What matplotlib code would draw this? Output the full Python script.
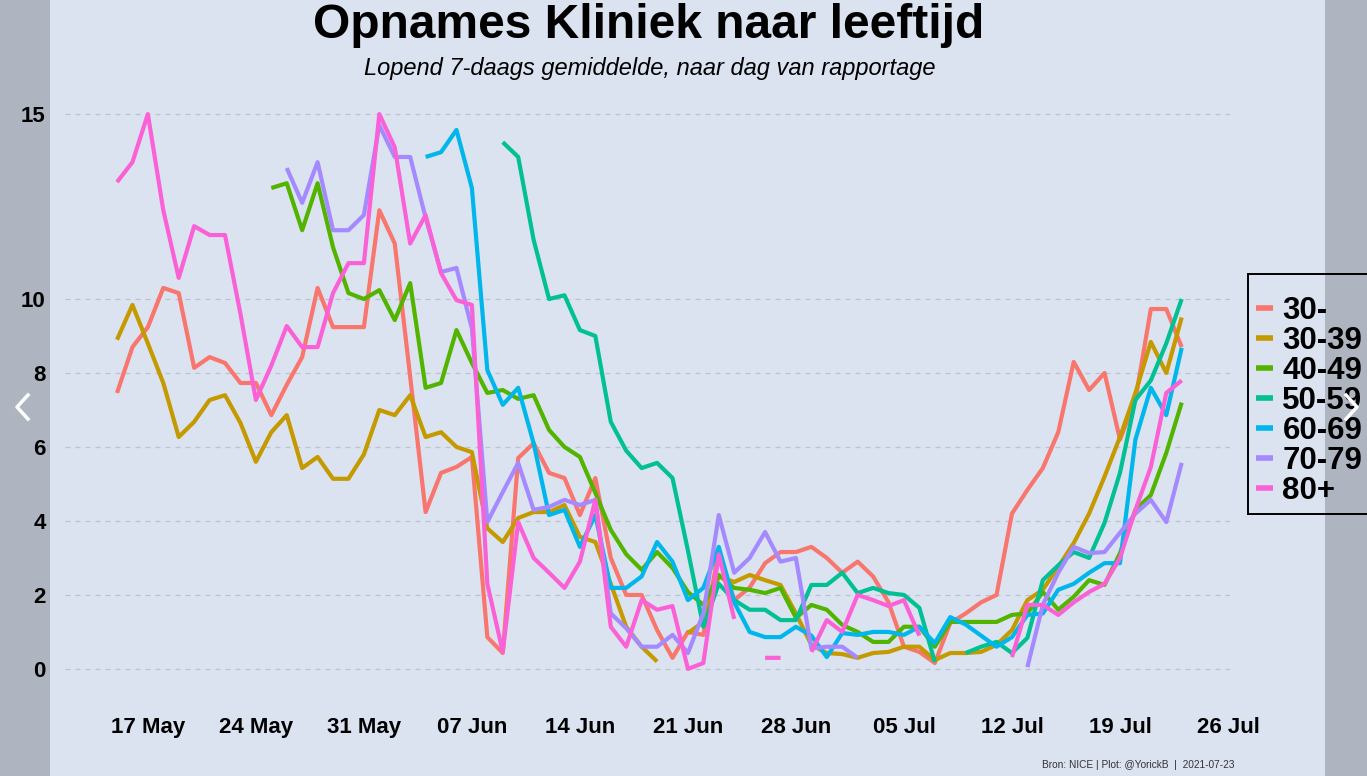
import numpy as np
import pandas as pd
import matplotlib
matplotlib.use('Agg')
import matplotlib.pyplot as plt
import matplotlib.dates as mdates
from matplotlib.lines import Line2D
from matplotlib.patches import Rectangle

nan = np.nan

# daily values, 15 May 2021 .. 23 Jul 2021 (7-day rolling mean)
dates = pd.date_range('2021-05-15', '2021-07-23', freq='D')

age_groups = ['30-', '30-39', '40-49', '50-59', '60-69', '70-79', '80+']
colors = ['#F8766D', '#C49A00', '#53B400', '#00C094', '#00B6EB', '#A58AFF', '#FB61D7']

y_u30 = [7.46, 8.7, 9.24, 10.3, 10.16, 8.14, 8.43, 8.27, 7.73, 7.73,
         6.86, 7.68, 8.43, 10.3, 9.24, 9.24, 9.24, 12.4, 11.5, 7.9,
         4.24, 5.3, 5.46, 5.73, 0.86, 0.43, 5.7, 6.1, 5.3, 5.16,
         4.16, 5.16, 3.0, 2.0, 2.0, 1.05, 0.3, 1.0, 0.92, 3.2,
         1.86, 2.2, 2.86, 3.16, 3.16, 3.3, 3.0, 2.6, 2.9, 2.5,
         1.8, 0.6, 0.46, 0.16, 1.24, 1.5, 1.8, 2.0, 4.2, 4.84,
         5.43, 6.4, 8.3, 7.54, 8.0, 6.2, 7.27, 9.73, 9.73, 8.7]
y_30_39 = [8.9, 9.84, 8.8, 7.73, 6.27, 6.68, 7.27, 7.4, 6.65, 5.6,
           6.4, 6.86, 5.43, 5.73, 5.14, 5.14, 5.8, 7.0, 6.86, 7.4,
           6.27, 6.4, 6.0, 5.86, 3.8, 3.43, 4.08, 4.24, 4.24, 4.43,
           3.57, 3.43, 2.3, 1.14, 0.6, 0.2, nan, 0.97, 1.27, 2.5,
           2.35, 2.54, 2.4, 2.27, 1.5, 0.65, 0.43, 0.4, 0.3, 0.43,
           0.46, 0.6, 0.6, 0.24, 0.43, 0.43, 0.46, 0.65, 1.05, 1.86,
           2.14, 2.76, 3.4, 4.2, 5.2, 6.27, 7.46, 8.84, 8.0, 9.5]
y_40_49 = [nan, nan, nan, nan, nan, nan, nan, nan, nan, nan,
           13.0, 13.13, 11.86, 13.13, 11.4, 10.16, 10.0, 10.24, 9.43, 10.43,
           7.6, 7.73, 9.16, 8.27, 7.46, 7.54, 7.3, 7.4, 6.46, 6.0,
           5.73, 4.76, 3.76, 3.1, 2.68, 3.16, 2.73, 2.08, 1.73, 2.54,
           2.19, 2.14, 2.05, 2.19, 1.38, 1.73, 1.6, 1.19, 1.0, 0.73,
           0.73, 1.14, 1.14, 0.6, 1.27, 1.27, 1.27, 1.27, 1.46, 1.5,
           2.08, 1.6, 1.95, 2.4, 2.27, 3.13, 4.3, 4.7, 5.84, 7.2]
y_50_59 = [nan] * 25 + [
           14.24, 13.84, 11.6, 10.0, 10.1,
           9.16, 9.0, 6.68, 5.9, 5.43, 5.57, 5.16, 3.2, 1.14, 2.3,
           1.86, 1.6, 1.6, 1.32, 1.32, 2.27, 2.27, 2.6, 2.05, 2.19,
           2.05, 2.0, 1.65, 0.19, nan, 0.43, 0.6, 0.73, 0.43, 0.84,
           2.4, 2.8, 3.16, 3.0, 3.95, 5.3, 7.27, 7.8, 8.8, 10.0]
y_60_69 = [nan] * 20 + [
           13.84, 13.97, 14.57, 13.0, 8.08, 7.14, 7.6, 6.1, 4.16, 4.3,
           3.3, 4.16, 2.19, 2.19, 2.5, 3.43, 2.9, 1.86, 2.19, 3.3,
           1.8, 1.0, 0.86, 0.86, 1.14, 0.9, 0.32, 0.97, 0.92, 1.0,
           1.0, 0.92, 1.14, 0.7, 1.4, 1.2, 0.9, 0.6, 0.86, 1.46,
           1.5, 2.14, 2.3, 2.6, 2.86, 2.86, 6.2, 7.6, 6.86, 8.68]
y_70_79 = [nan] * 11 + [
           13.54, 12.6, 13.7, 11.86, 11.86, 12.27, 14.7, 13.84, 13.84,
           12.2, 10.73, 10.84, 9.2, 3.97, 4.78, 5.57, 4.3, 4.38, 4.57,
           4.43, 4.57, 1.5, 1.1, 0.6, 0.6, 0.92, 0.43, 1.5, 4.16,
           2.6, 3.0, 3.7, 2.9, 3.0, 0.55, 0.6, 0.6, 0.3, nan,
           nan, nan, nan, nan, nan, nan, nan, nan, nan, 0.05,
           1.73, 2.6, 3.3, 3.13, 3.16, 3.68, 4.2, 4.57, 3.97, 5.57]
y_80plus = [13.16, 13.7, 15.0, 12.4, 10.57, 11.97, 11.73, 11.73, 9.6, 7.27,
            8.2, 9.27, 8.7, 8.7, 10.16, 10.97, 10.97, 15.0, 14.1, 11.5,
            12.27, 10.7, 9.97, 9.84, 2.3, 0.46, 3.97, 3.0, 2.6, 2.19,
            2.9, 4.57, 1.14, 0.6, 1.86, 1.6, 1.7, 0.0, 0.16, 3.1,
            1.35, nan, 0.3, 0.3, nan, 0.46, 1.32, 1.0, 2.0, 1.86,
            1.7, 1.86, 0.9, nan, nan, nan, nan, nan, 0.32, 1.73,
            1.73, 1.46, 1.8, 2.08, 2.3, 3.0, 4.3, 5.46, 7.46, 7.8]

series = [y_u30, y_30_39, y_40_49, y_50_59, y_60_69, y_70_79, y_80plus]

plt.rcParams['font.family'] = ['Liberation Sans', 'DejaVu Sans']

bg = '#dbe3f0'
W, H = 1367, 776
fig = plt.figure(figsize=(W / 100, H / 100), dpi=100, facecolor=bg)
ax = fig.add_axes([65 / W, 76 / H, 1165 / W, 600 / H])
ax.set_facecolor(bg)

for vals, lab, col in zip(series, age_groups, colors):
    ax.plot(dates, vals, color=col, lw=3, label=lab,
            solid_joinstyle='round', solid_capstyle='butt')

ax.set_ylim(-0.84, 15.38)
ax.set_yticks([0, 2, 4, 6, 8, 10, 15])
ax.set_xlim(dates[0] - pd.Timedelta(days=3.37), dates[0] + pd.Timedelta(days=72.13))
ax.xaxis.set_major_locator(mdates.WeekdayLocator(byweekday=mdates.MO))
ax.xaxis.set_major_formatter(mdates.DateFormatter('%d %b'))
ax.grid(axis='y', color='#bcc3cf', lw=0.9, ls=(0, (4, 4)))
for s in ax.spines.values():
    s.set_visible(False)
ax.tick_params(axis='y', length=0, labelsize=16, pad=14)
ax.tick_params(axis='x', length=0, labelsize=16, pad=12)
for t in ax.get_xticklabels() + ax.get_yticklabels():
    t.set_fontweight('bold')

fig.text(649 / W, 1 - 26 / H, 'Opnames Kliniek naar leeftijd', fontsize=34.5,
         fontweight='bold', ha='center', va='center')
fig.text(650 / W, 1 - 68 / H, 'Lopend 7-daags gemiddelde, naar dag van rapportage',
         fontsize=17, style='italic', ha='center', va='center')
fig.text(1235 / W, 1 - 765 / H, 'Bron: NICE | Plot: @YorickB  |  2021-07-23',
         fontsize=7.3, ha='right', va='center', color='#333333')

# empty legend title, as in the ggplot original
handles, labels = ax.get_legend_handles_labels()
leg = fig.legend(handles, labels, loc='upper left', bbox_to_anchor=(1248 / W, 1 - 274 / H),
                 prop={'size': 22.5, 'weight': 'bold'}, frameon=True, fancybox=False,
                 facecolor=bg, edgecolor='black', framealpha=1, borderaxespad=0,
                 title=' ', title_fontsize=10,
                 handlelength=0.55, handletextpad=0.3, labelspacing=0.0, borderpad=0.25)
leg.get_frame().set_linewidth(1.4)
for h in leg.get_lines():
    h.set_linewidth(4)

# screenshot side bars with slider arrows
fig.patches.append(Rectangle((0, 0), 50 / W, 1, transform=fig.transFigure,
                             facecolor='black', edgecolor='none', lw=0, alpha=0.2, zorder=10))
fig.patches.append(Rectangle((1325 / W, 0), 42 / W, 1, transform=fig.transFigure,
                             facecolor='black', edgecolor='none', lw=0, alpha=0.2, zorder=10))
fig.lines.append(Line2D([28 / W, 17 / W, 28 / W], [1 - 395 / H, 1 - 407 / H, 1 - 419 / H],
                        transform=fig.transFigure, color='white', lw=2.5, zorder=11))
fig.lines.append(Line2D([1346 / W, 1357 / W, 1346 / W], [1 - 395 / H, 1 - 407 / H, 1 - 419 / H],
                        transform=fig.transFigure, color='white', lw=2.5, zorder=11))

fig.savefig('out.png', dpi=100, facecolor=bg)
